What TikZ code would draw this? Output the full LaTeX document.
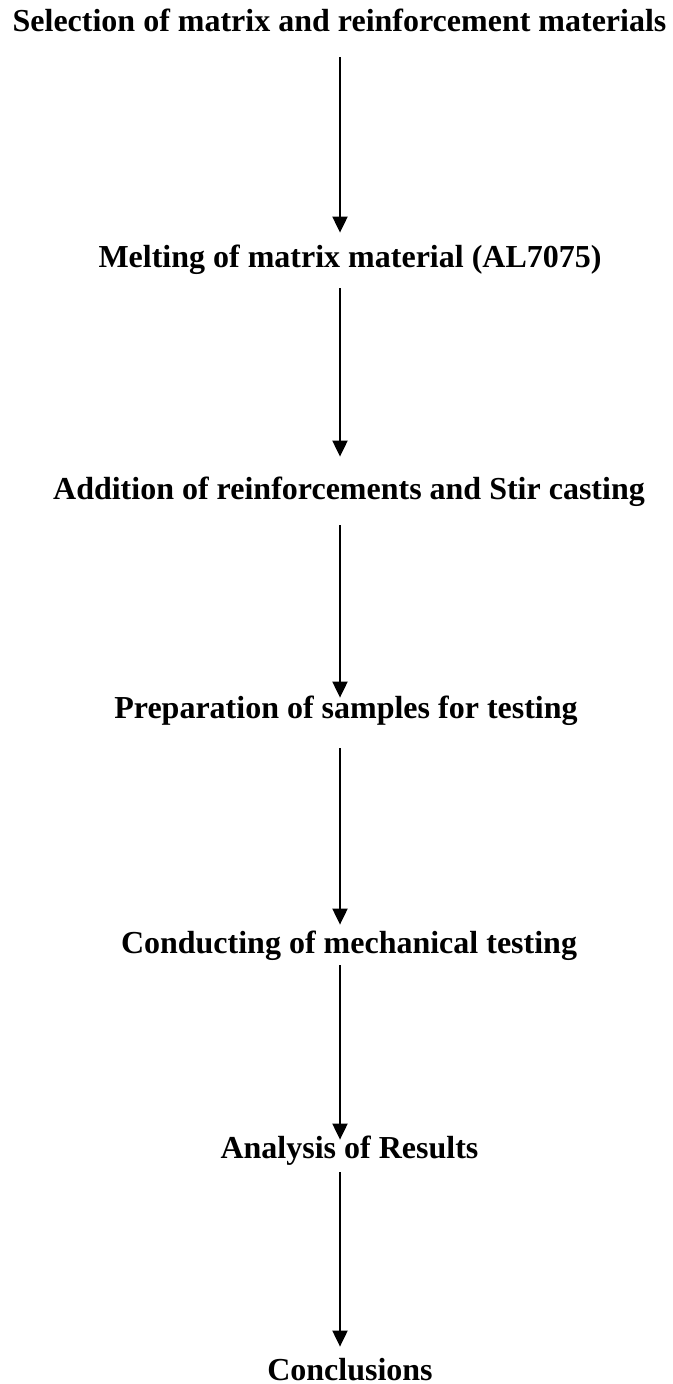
\documentclass[tikz,border=0pt]{standalone}
\usepackage{fontspec}
\setmainfont{Liberation Serif}
\usetikzlibrary{arrows.meta}
\begin{document}
\begin{tikzpicture}[x=0.5pt,y=-0.5pt,
  lbl/.style={anchor=base,inner sep=0pt,text height=11pt,text depth=3.5pt,
    font=\fontsize{16}{19}\selectfont\bfseries},
  arr/.style={line width=1pt,-{Triangle[width=7.5pt,length=8pt]}}]
\useasboundingbox (0,0) rectangle (673,1384);
\coordinate (ax) at (340,0);
\node[lbl] (t1) at (339.5,32) {Selection of matrix and reinforcement materials};
\node[lbl] (t2) at (350,268) {Melting of matrix material (AL7075)};
\node[lbl] (t3) at (349,500) {Addition of reinforcements and Stir casting};
\node[lbl] (t4) at (346,718) {Preparation of samples for testing};
\node[lbl] (t5) at (349,953) {Conducting of mechanical testing};
\node[lbl] (t6) at (349.5,1158) {Analysis of Results};
\node[lbl] (t7) at (350,1380) {Conclusions};
\draw[arr,shorten <=9pt,shorten >=6.5pt] (t1.south -| ax) -- (t2.north -| ax);
\draw[arr,shorten <=6.5pt,shorten >=10.5pt] (t2.south -| ax) -- (t3.north -| ax);
\draw[arr,shorten <=9pt,shorten >=-1pt] (t3.south -| ax) -- (t4.north -| ax);
\draw[arr,shorten <=11.5pt,shorten >=3pt] (t4.south -| ax) -- (t5.north -| ax);
\draw[arr,shorten <=2.5pt,shorten >=-2pt] (t5.south -| ax) -- (t6.north -| ax);
\draw[arr,shorten <=3.5pt,shorten >=5.5pt] (t6.south -| ax) -- (t7.north -| ax);
\end{tikzpicture}
\end{document}
